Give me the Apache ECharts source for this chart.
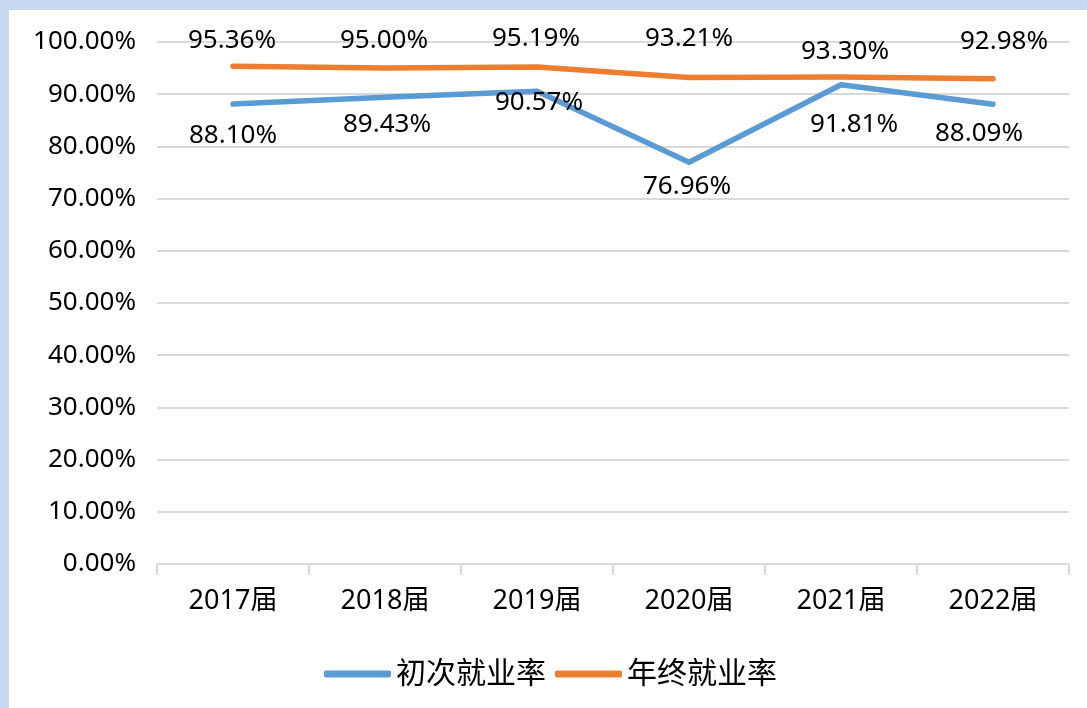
<!DOCTYPE html>
<html>
<head>
<meta charset="utf-8">
<script src="https://cdn.jsdelivr.net/npm/echarts@6/dist/echarts.min.js"></script>
<style>
html,body{margin:0;padding:0;width:1087px;height:708px;background:#c6d9f0;overflow:hidden;}
#chart{position:absolute;left:9px;top:10px;width:1078px;height:698px;background:#ffffff;}
</style>
</head>
<body>
<div id="chart"></div>
<script>
// ---- data ----
var categories = ['2017届', '2018届', '2019届', '2020届', '2021届', '2022届'];
var seriesNames = ['初次就业率', '年终就业率'];
var firstRate = [88.10, 89.43, 90.57, 76.96, 91.81, 88.09];
var finalRate = [95.36, 95.00, 95.19, 93.21, 93.30, 92.98];
var yTicks = [0, 10, 20, 30, 40, 50, 60, 70, 80, 90, 100];

// ---- label placement (layout only) ----
var firstLabelOffsets = [[0, 31], [2, 27], [2, 11], [-2, 24], [13, 40], [-14, 29]];
var finalLabelOffsets = [[-1, -26], [-1, -28], [-1, -29], [0, -39], [4, -25], [11, -37]];

var FONT = "'Noto Sans','Noto Sans CJK SC',sans-serif";

function build(values, offsets) {
  return values.map(function (v, i) {
    return { value: v, label: { offset: offsets[i] } };
  });
}

var chart = echarts.init(document.getElementById('chart'));
chart.setOption({
  animation: false,
  textStyle: { fontFamily: FONT },
  grid: { left: 148, right: 18, top: 32, bottom: 144, containLabel: false },
  legend: {
    data: seriesNames,
    left: 310,
    top: 644,
    icon: 'roundRect',
    itemWidth: 67,
    itemHeight: 7,
    itemGap: 9,
    textStyle: { fontSize: 30, color: '#000', fontFamily: FONT }
  },
  xAxis: {
    type: 'category',
    data: categories,
    boundaryGap: true,
    axisLine: { lineStyle: { color: '#d9d9d9', width: 2 } },
    axisTick: { show: true, length: 11, lineStyle: { color: '#d9d9d9', width: 2 } },
    axisLabel: { fontSize: 27, color: '#000', margin: 24, fontFamily: FONT }
  },
  yAxis: {
    type: 'value',
    min: yTicks[0],
    max: yTicks[yTicks.length - 1],
    interval: 10,
    axisLine: { show: false },
    axisTick: { show: false },
    splitLine: { lineStyle: { color: '#d9d9d9', width: 2 } },
    axisLabel: {
      fontSize: 26, color: '#000', margin: 21, fontFamily: FONT,
      formatter: function (v) { return v.toFixed(2) + '%'; }
    }
  },
  series: [
    {
      name: seriesNames[0],
      type: 'line',
      data: build(firstRate, firstLabelOffsets),
      symbol: 'circle',
      symbolSize: 1,
      showSymbol: true,
      color: '#5b9bd5',
      lineStyle: { width: 5.5, color: '#5b9bd5', cap: 'round', join: 'round' },
      itemStyle: { color: '#5b9bd5' },
      label: {
        show: true, position: 'inside', fontSize: 26, color: '#000', fontFamily: FONT,
        formatter: function (p) { return p.value.toFixed(2) + '%'; }
      },
      z: 3
    },
    {
      name: seriesNames[1],
      type: 'line',
      data: build(finalRate, finalLabelOffsets),
      symbol: 'circle',
      symbolSize: 1,
      showSymbol: true,
      color: '#ed7d31',
      lineStyle: { width: 5.5, color: '#ed7d31', cap: 'round', join: 'round' },
      itemStyle: { color: '#ed7d31' },
      label: {
        show: true, position: 'inside', fontSize: 26, color: '#000', fontFamily: FONT,
        formatter: function (p) { return p.value.toFixed(2) + '%'; }
      },
      z: 2
    }
  ]
});
</script>
</body>
</html>
